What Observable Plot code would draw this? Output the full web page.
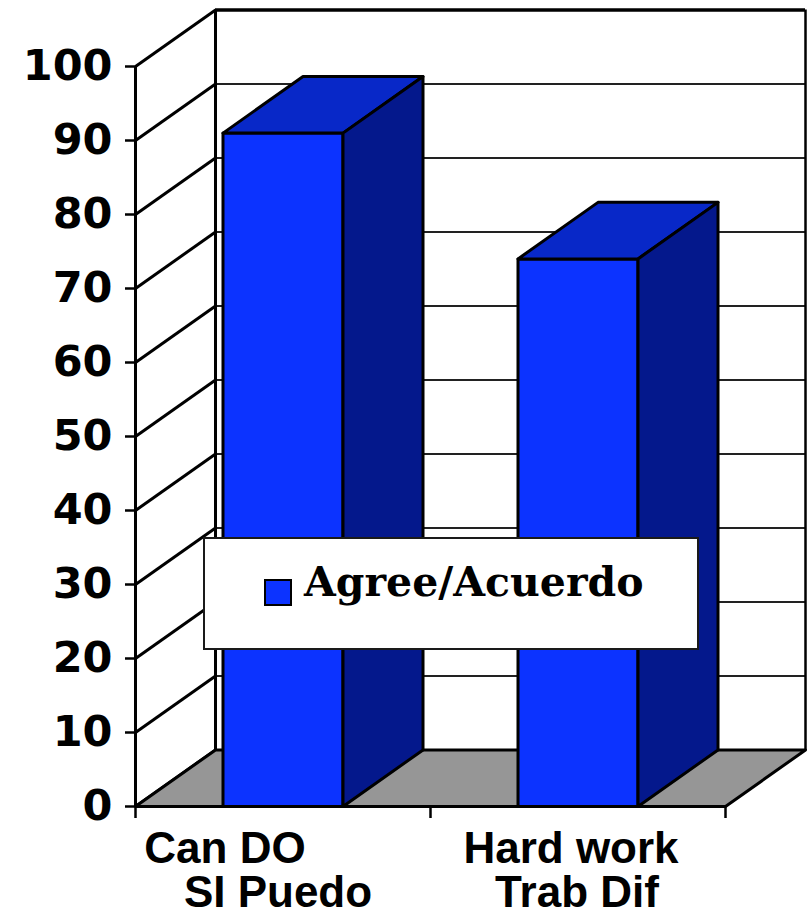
<!DOCTYPE html>
<html>
<head>
<meta charset="utf-8">
<script src="https://cdn.jsdelivr.net/npm/d3@7"></script>
<script src="https://cdn.jsdelivr.net/npm/@observablehq/plot@0.6"></script>
<style>
  html, body { margin: 0; padding: 0; background: #fff; }
  #wrap { position: relative; width: 808px; height: 911px; overflow: hidden; }
  #legend {
    position: absolute; left: 203px; top: 537px; width: 496px; height: 113px;
    box-sizing: border-box; border: 2px solid #1a1a1a; background: #fff;
  }
  #legend .sw {
    position: absolute; left: 59px; top: 40px; width: 28px; height: 27px;
    box-sizing: border-box; border: 2px solid #000; background: #0c33ff;
  }
  #legend .lab {
    position: absolute; left: 99px; top: 19px; white-space: nowrap;
    font-family: "DejaVu Serif", serif; font-weight: bold; font-size: 41px; color: #000;
  }
</style>
</head>
<body>
<div id="wrap"></div>
<script>
// ---- data ----
const categories = ["Can DO", "Hard work"];
const categoriesEs = ["SI Puedo", "Trab Dif"];
const values = [91, 74];
const yTicks = [0, 10, 20, 30, 40, 50, 60, 70, 80, 90, 100];
const seriesName = "Agree/Acuerdo";

// ---- 3D geometry (in data units) ----
const DX = 0.2712;   // depth offset along x (category units)
const DY = 7.64;     // depth offset along y (value units)
const HW = 0.2034;   // half bar width (category units)
const nCat = categories.length;

const FRONT = "#0c33ff", TOP = "#0828c8", SIDE = "#04188c", FLOOR = "#969696";

// polygons built from the data
const floorPoly = [[0, 0], [nCat, 0], [nCat + DX, DY], [DX, DY]].map(([x, y]) => ({x, y, id: "floor"}));
const faces = [];
values.forEach((v, i) => {
  const c = i + 0.5;
  const f = [[c - HW, 0], [c + HW, 0], [c + HW, v], [c - HW, v]];
  const t = [[c - HW, v], [c + HW, v], [c + HW + DX, v + DY], [c - HW + DX, v + DY]];
  const s = [[c + HW, 0], [c + HW + DX, DY], [c + HW + DX, v + DY], [c + HW, v]];
  f.forEach(([x, y]) => faces.push({x, y, id: "f" + i, fill: FRONT}));
  t.forEach(([x, y]) => faces.push({x, y, id: "t" + i, fill: TOP}));
  s.forEach(([x, y]) => faces.push({x, y, id: "s" + i, fill: SIDE}));
});

const innerTicks = yTicks.filter(t => t > 0 && t < 100);
const labelShift = [[-58, -5], [-7, -1]];

const chart = Plot.plot({
  width: 808,
  height: 911,
  marginLeft: 135,
  marginRight: 83,
  marginTop: 66,
  marginBottom: 105,
  x: {type: "linear", domain: [0, nCat], axis: null},
  y: {domain: [0, 100], axis: null},
  style: {background: "#fff", overflow: "visible"},
  marks: [
    // back wall gridlines
    Plot.ruleY(innerTicks, {y: d => d + DY, x1: DX, x2: nCat + DX, stroke: "#222", strokeWidth: 2}),
    Plot.ruleY([100], {y: d => d + DY, x1: DX, x2: nCat + DX, stroke: "#000", strokeWidth: 3.5}),
    // back wall verticals
    Plot.ruleX([DX], {x: d => d, y1: DY, y2: 100 + DY, stroke: "#000", strokeWidth: 3}),
    Plot.ruleX([nCat + DX], {x: d => d, y1: DY, y2: 100 + DY, stroke: "#000", strokeWidth: 2.5}),
    // left wall diagonals
    Plot.link(yTicks, {x1: 0, y1: d => d, x2: DX, y2: d => d + DY, stroke: "#000", strokeWidth: 3}),
    // floor
    Plot.line(floorPoly, {x: "x", y: "y", z: "id", curve: "linear-closed", fill: FLOOR, stroke: "#000", strokeWidth: 3}),
    // bars
    Plot.line(faces, {x: "x", y: "y", z: "id", curve: "linear-closed", fill: "fill", stroke: "#000", strokeWidth: 3, strokeLinejoin: "round"}),
    // y axis line and ticks
    Plot.ruleX([0], {x: d => d, y1: 0, y2: 100, stroke: "#000", strokeWidth: 3}),
    Plot.axisY(yTicks, {ticks: yTicks, label: null, tickSize: 10, tickPadding: 13, strokeWidth: 2.5,
      fontSize: 43, fontWeight: "bold", fontFamily: "DejaVu Sans", fill: "#000"}),
    // x axis line and ticks
    Plot.ruleY([0], {y: d => d, x1: 0, x2: nCat, stroke: "#000", strokeWidth: 3}),
    Plot.axisX(d3.range(nCat + 1), {ticks: d3.range(nCat + 1), label: null, tickSize: 12, tickFormat: () => "", strokeWidth: 2.5}),
    // category labels
    ...categories.flatMap((c, i) => [
      Plot.text([c], {x: () => i + 0.5, y: () => 0, text: d => d, dy: 42, dx: labelShift[i][0],
        fontFamily: "Liberation Sans", fontWeight: "bold", fontSize: 44, fill: "#000"}),
      Plot.text([categoriesEs[i]], {x: () => i + 0.5, y: () => 0, text: d => d, dy: 86, dx: labelShift[i][1],
        fontFamily: "Liberation Sans", fontWeight: "bold", fontSize: 44, fill: "#000"})
    ])
  ]
});

const wrap = document.getElementById("wrap");
wrap.appendChild(chart);
const legend = document.createElement("div");
legend.id = "legend";
legend.innerHTML = `<div class="sw"></div><div class="lab"></div>`;
legend.querySelector(".lab").textContent = seriesName;
wrap.appendChild(legend);
</script>
</body>
</html>
